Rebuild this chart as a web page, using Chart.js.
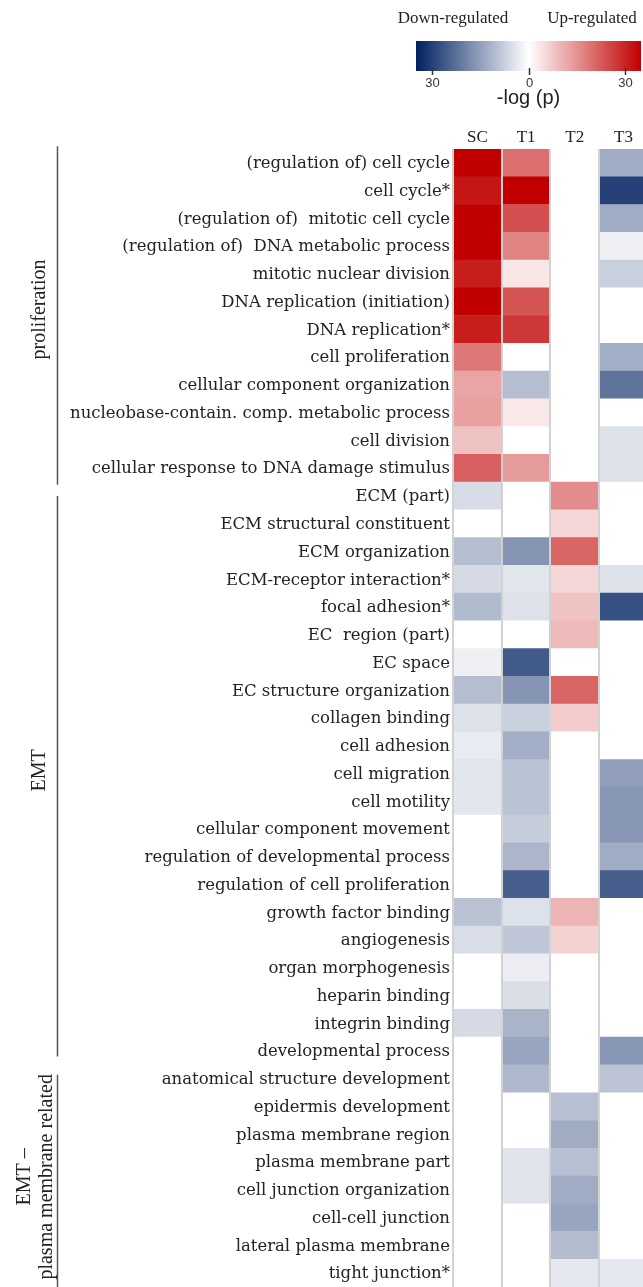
<!DOCTYPE html>
<html lang="en">
<head>
<meta charset="UTF-8" />
<title>GO term enrichment heatmap</title>
<script src="https://cdn.jsdelivr.net/npm/chart.js"></script>
<style>
  html, body { margin: 0; padding: 0; background: #fff; }
  #wrap { width: 643px; height: 1287px; }
</style>
</head>
<body>
<div id="wrap"><canvas id="heat" width="643" height="1287"></canvas></div>
<script>
// samples (columns of the heatmap)
const columns = ["SC", "T1", "T2", "T3"];

// GO terms, top to bottom
const terms = [
  "(regulation of) cell cycle",
  "cell cycle*",
  "(regulation of)  mitotic cell cycle",
  "(regulation of)  DNA metabolic process",
  "mitotic nuclear division",
  "DNA replication (initiation)",
  "DNA replication*",
  "cell proliferation",
  "cellular component organization",
  "nucleobase-contain. comp. metabolic process",
  "cell division",
  "cellular response to DNA damage stimulus",
  "ECM (part)",
  "ECM structural constituent",
  "ECM organization",
  "ECM-receptor interaction*",
  "focal adhesion*",
  "EC  region (part)",
  "EC space",
  "EC structure organization",
  "collagen binding",
  "cell adhesion",
  "cell migration",
  "cell motility",
  "cellular component movement",
  "regulation of developmental process",
  "regulation of cell proliferation",
  "growth factor binding",
  "angiogenesis",
  "organ morphogenesis",
  "heparin binding",
  "integrin binding",
  "developmental process",
  "anatomical structure development",
  "epidermis development",
  "plasma membrane region",
  "plasma membrane part",
  "cell junction organization",
  "cell-cell junction",
  "lateral plasma membrane",
  "tight junction*"
];

// signed -log(p): positive = up-regulated, negative = down-regulated
const scValues = [
  35, 32, 35, 35, 31, 35, 31, 18.5, 12.3, 13, 8.2, 22,
  -5.5, 0, -10.2, -5.8, -10.7, 0, -2.4, -10.2, -4.7, -3.1, -4.1, -3.9,
  0, 0, 0, -9.6, -5.3, 0, 0, -5.8, 0, 0,
  0, 0, 0, 0, 0, 0, 0
];
const t1Values = [
  19.9, 35, 24, 17, 3.4, 23.3, 27.4, 0, -10.2, 3.2, 0, 13.7,
  0, 0, -16.8, -4.1, -4.7, 0, -25.9, -16.8, -7.5, -12.6, -9.6, -9.6,
  -7.9, -11.5, -25.1, -4.7, -8.9, -2.8, -5.2, -11.8, -14.1, -11,
  0, 0, -4.4, -4.4, 0, 0, 0
];
const t2Values = [
  0, 0, 0, 0, 0, 0, 0, 0, 0, 0, 0, 0,
  15.8, 5.5, 21.2, 5.5, 8.2, 9.6, 0, 21.2, 6.8, 0, 0, 0,
  0, 0, 0, 10.3, 6.2, 0, 0, 0, 0, 0,
  -9.9, -13, -9.9, -13, -14.1, -10.5, -3.6
];
const t3Values = [
  -13, -29.8, -13, -2.4, -7.5, 0, 0, -12.6, -22, 0, -4.7, -4.7,
  0, 0, 0, -4.7, -27.5, 0, 0, 0, 0, 0, -15.2, -16.5,
  -16.5, -13, -25.1, 0, 0, 0, 0, 0, -16.5, -9.4,
  0, 0, 0, 0, 0, 0, -3.6
];

// row groups (bracket spans in row index units)
const groupLabels = [["proliferation"], ["EMT"], ["EMT \u2013", "plasma membrane related"]];
const groupFrom = [-0.6, 12.0, 32.85];
const groupTo = [11.6, 32.2, 41];

// colour bar ticks
const barTickValues = [-30, 0, 30];
const barTickLabels = ["30", "0", "30"];

const LIMIT = 35;
const UP = [192, 0, 0];
const DOWN = [0, 32, 96];

function heatColor(v) {
  const t = Math.min(Math.abs(v) / LIMIT, 1);
  const end = v < 0 ? DOWN : UP;
  const c = end.map(e => Math.round(255 + (e - 255) * t));
  return "rgb(" + c.join(",") + ")";
}

const series = [scValues, t1Values, t2Values, t3Values];
const datasets = series.map((vals, c) => ({
  label: columns[c],
  data: vals.map(() => [c, c + 1]),
  backgroundColor: vals.map(heatColor),
  borderWidth: 0,
  barPercentage: 1,
  categoryPercentage: 1,
  grouped: false
}));

// draws column dividers, group brackets, and the colour key
const decorations = {
  id: "decorations",
  afterDatasetsDraw(chart) {
    const { ctx, chartArea } = chart;
    const xs = chart.scales.x;
    ctx.save();
    ctx.strokeStyle = "#d2d2d2";
    ctx.lineWidth = 2;
    for (let c = 0; c < columns.length; c++) {
      const x = Math.round(xs.getPixelForValue(c));
      ctx.beginPath();
      ctx.moveTo(x, chartArea.top);
      ctx.lineTo(x, chartArea.bottom);
      ctx.stroke();
    }
    ctx.restore();
  },
  afterDraw(chart) {
    const { ctx } = chart;
    const ys = chart.scales.y;
    ctx.save();

    // group brackets + rotated labels
    groupLabels.forEach((lines, g) => {
      const y0 = ys.getPixelForValue(groupFrom[g]);
      const y1 = Math.min(ys.getPixelForValue(groupTo[g]), chart.height);
      ctx.strokeStyle = "#555";
      ctx.lineWidth = 1.5;
      ctx.beginPath();
      ctx.moveTo(57.5, y0);
      ctx.lineTo(57.5, y1);
      ctx.stroke();

      const mid = (y0 + y1) / 2 - (lines.length === 1 ? 6 : 4);
      const xPos = lines.length === 1 ? [40] : [25, 47];
      ctx.fillStyle = "#222";
      ctx.font = "20px 'Liberation Serif'";
      ctx.textAlign = "center";
      ctx.textBaseline = "middle";
      lines.forEach((txt, k) => {
        ctx.save();
        ctx.translate(xPos[k], mid);
        ctx.rotate(-Math.PI / 2);
        ctx.fillText(txt, 0, 0);
        ctx.restore();
      });
    });

    // colour key
    const bx0 = 416, bx1 = 641, by0 = 41, by1 = 71;
    const toX = v => bx0 + (v + LIMIT) / (2 * LIMIT) * (bx1 - bx0);
    const grad = ctx.createLinearGradient(bx0, 0, bx1, 0);
    for (let v = -LIMIT; v <= LIMIT; v += 2.5) {
      grad.addColorStop((v + LIMIT) / (2 * LIMIT), heatColor(v));
    }
    ctx.fillStyle = grad;
    ctx.fillRect(bx0, by0, bx1 - bx0, by1 - by0);

    ctx.strokeStyle = "#333";
    ctx.lineWidth = 1.5;
    ctx.fillStyle = "#333";
    ctx.font = "13px 'Liberation Sans'";
    ctx.textAlign = "center";
    ctx.textBaseline = "middle";
    barTickValues.forEach((v, i) => {
      const x = Math.round(toX(v)) + 0.5;
      ctx.beginPath();
      ctx.moveTo(x, by1 - 3);
      ctx.lineTo(x, by1 + 4);
      ctx.stroke();
      ctx.fillText(barTickLabels[i], x, 83);
    });

    ctx.fillStyle = "#222";
    ctx.font = "20px 'Liberation Sans'";
    ctx.fillText("-log (p)", toX(0), 98);

    ctx.font = "17px 'Liberation Serif'";
    ctx.fillText("Down-regulated", 453, 19);
    ctx.fillText("Up-regulated", 592, 19);
    ctx.restore();
  }
};

new Chart(document.getElementById("heat"), {
  type: "bar",
  data: { labels: terms, datasets: datasets },
  options: {
    indexAxis: "y",
    responsive: false,
    animation: false,
    devicePixelRatio: 1,
    layout: { padding: { top: 120, left: 0, right: 0, bottom: 0 } },
    plugins: { legend: { display: false }, tooltip: { enabled: false } },
    scales: {
      x: {
        type: "linear",
        position: "top",
        min: 0,
        max: 3.9,
        grid: { display: false, drawTicks: false },
        border: { display: false },
        afterBuildTicks: s => { s.ticks = columns.map((_, i) => ({ value: i + 0.5 })); },
        afterFit: s => { s.height = 29; },
        ticks: {
          autoSkip: false,
          maxRotation: 0,
          padding: 1,
          color: "#222",
          font: { family: "'Liberation Serif'", size: 17 },
          callback: v => columns[Math.floor(v)]
        }
      },
      y: {
        grid: { display: false, drawTicks: false },
        border: { display: false },
        afterFit: s => { s.width = 453; s.paddingTop = 0; s.paddingBottom = 0; },
        ticks: {
          autoSkip: false,
          padding: 3,
          labelOffset: 1,
          color: "#222",
          font: { family: "'DejaVu Serif'", size: 16.5 }
        }
      }
    }
  },
  plugins: [decorations]
});
</script>
</body>
</html>
